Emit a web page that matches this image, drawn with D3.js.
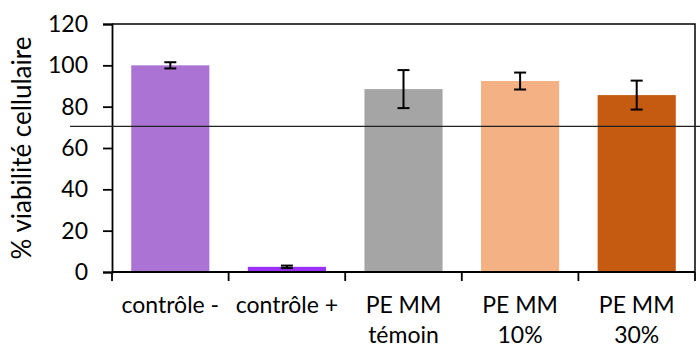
<!DOCTYPE html>
<html>
<head>
<meta charset="utf-8">
<script src="https://cdn.jsdelivr.net/npm/d3@7"></script>
<style>
  body { margin: 0; background: #fff; }
  text { font-family: Lato, "Open Sans", sans-serif; fill: #000; }
</style>
</head>
<body>
<script>
// data
const categories = ["contrôle -", "contrôle +", "PE MM\ntémoin", "PE MM\n10%", "PE MM\n30%"];
const values = [100, 2.5, 88.5, 92.4, 85.6];
const errors = [1.5, 0.6, 9.2, 4.1, 7.0];
const colors = ["#AB74D4", "#9B30F8", "#A5A5A5", "#F4B183", "#C55A11"];
const yTicks = [0, 20, 40, 60, 80, 100, 120];
const threshold = 70.5;

// Set up the dimensions and margins of the chart
const margin = { top: 24, right: 5, bottom: 77, left: 112 };
const width = 700 - margin.left - margin.right;
const height = 349 - margin.top - margin.bottom;

const svg = d3.select("body")
    .append("svg")
    .attr("width", 700)
    .attr("height", 349)
    .append("g")
    .attr("transform", `translate(${margin.left},${margin.top})`);

// Create scales
const x = d3.scaleBand()
    .domain(categories)
    .range([0, width])
    .paddingInner(0.33)
    .paddingOuter(0.165);

const y = d3.scaleLinear()
    .domain([0, 120])
    .range([height, 0]);

// Bars
svg.selectAll("rect.bar")
    .data(values)
    .join("rect")
    .attr("class", "bar")
    .attr("x", (d, i) => x(categories[i]))
    .attr("y", d => y(d))
    .attr("width", x.bandwidth())
    .attr("height", d => height - y(d))
    .attr("fill", (d, i) => colors[i]);

// Error bars
const err = svg.selectAll("g.err")
    .data(values)
    .join("g")
    .attr("class", "err")
    .attr("stroke", "#000")
    .attr("stroke-width", 2);
const cx = (i) => x(categories[i]) + x.bandwidth() / 2;
err.append("line")
    .attr("x1", (d, i) => cx(i)).attr("x2", (d, i) => cx(i))
    .attr("y1", (d, i) => y(d + errors[i])).attr("y2", (d, i) => y(d - errors[i]));
err.append("line")
    .attr("x1", (d, i) => cx(i) - 6).attr("x2", (d, i) => cx(i) + 6)
    .attr("y1", (d, i) => y(d + errors[i])).attr("y2", (d, i) => y(d + errors[i]));
err.append("line")
    .attr("x1", (d, i) => cx(i) - 6).attr("x2", (d, i) => cx(i) + 6)
    .attr("y1", (d, i) => y(d - errors[i])).attr("y2", (d, i) => y(d - errors[i]));

// Plot frame (top and right)
svg.append("path")
    .attr("d", `M0,0H${width}V${height}`)
    .attr("fill", "none")
    .attr("stroke", "#000")
    .attr("stroke-width", 1.5);

// Y axis
const yAxis = svg.append("g")
    .call(d3.axisLeft(y).tickValues(yTicks).tickSize(9).tickPadding(15));
yAxis.selectAll("text").style("font-size", "23px");
yAxis.selectAll("line, path").attr("stroke", "#000").attr("stroke-width", 1.8);

// X axis: ticks between categories
const xAxis = svg.append("g")
    .attr("transform", `translate(0,${height})`);
xAxis.append("line")
    .attr("x1", 0).attr("x2", width)
    .attr("stroke", "#000").attr("stroke-width", 1.8);
const step = x.step();
xAxis.selectAll("line.tick")
    .data(d3.range(categories.length + 1))
    .join("line")
    .attr("class", "tick")
    .attr("x1", d => d * step).attr("x2", d => d * step)
    .attr("y1", 0).attr("y2", 9)
    .attr("stroke", "#000").attr("stroke-width", 1.8);

const labels = xAxis.selectAll("text")
    .data(categories)
    .join("text")
    .attr("text-anchor", "middle")
    .attr("x", d => cx(categories.indexOf(d)))
    .attr("y", 41)
    .style("font-size", "23px");
labels.selectAll("tspan")
    .data(d => d.split("\n"))
    .join("tspan")
    .attr("x", function () { return this.parentNode.getAttribute("x"); })
    .attr("dy", (d, i) => i === 0 ? 0 : 30)
    .text(d => d);

// Threshold line
svg.append("line")
    .attr("x1", -42).attr("x2", width + 5)
    .attr("y1", y(threshold)).attr("y2", y(threshold))
    .attr("stroke", "#222")
    .attr("stroke-width", 1.3);

// Y axis title
svg.append("text")
    .attr("transform", `translate(${-81},${height / 2}) rotate(-90)`)
    .attr("text-anchor", "middle")
    .style("font-size", "26px")
    .text("% viabilité cellulaire");
</script>
</body>
</html>
